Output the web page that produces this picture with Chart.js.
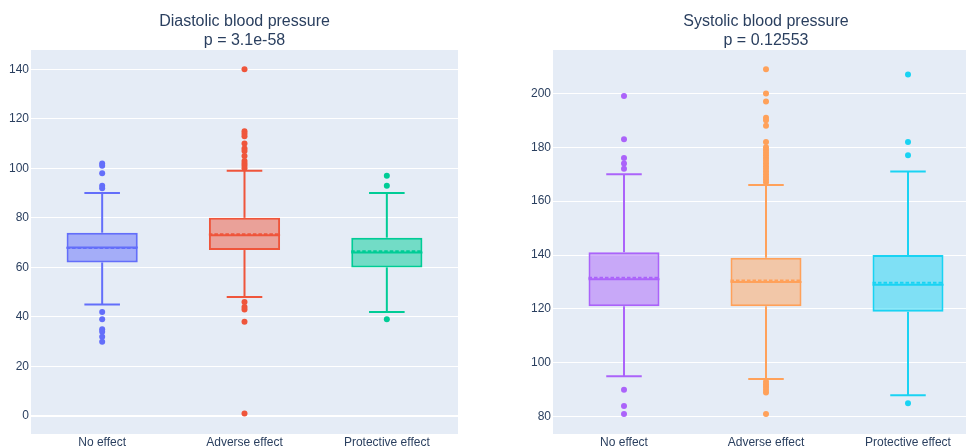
<!DOCTYPE html>
<html>
<head>
<meta charset="utf-8">
<script src="https://cdn.jsdelivr.net/npm/chart.js@4.4.1/dist/chart.umd.min.js"></script>
<style>
  html, body { margin: 0; padding: 0; background: #fff; overflow: hidden; width: 966px; height: 446px; }
  #wrap { position: relative; width: 966px; height: 446px; overflow: hidden; }
  canvas { position: absolute; top: 0; }
  #dia { left: 0; }
  #sys { left: 480px; }
</style>
</head>
<body>
<div id="wrap">
  <canvas id="dia" width="480" height="446"></canvas>
  <canvas id="sys" width="521" height="446"></canvas>
</div>
<script>
// Groups shown on both panels
const categories = ['No effect', 'Adverse effect', 'Protective effect'];

// Diastolic blood pressure: box statistics per group
const diaQ1 = [62, 67, 60];
const diaMedian = [68, 73, 66];
const diaQ3 = [74, 80, 72];
const diaMean = [67.8, 73.4, 66.5];
const diaLowerFence = [45, 48, 42];
const diaUpperFence = [90, 99, 90];
const diaOutliersNoEffect = [102, 101, 98, 93, 92, 42, 39, 35, 34, 32, 30];
const diaOutliersAdverse = [140, 115, 114, 113, 110, 108, 107, 105, 103, 102, 101, 100, 46, 44, 43, 38, 1];
const diaOutliersProtective = [97, 93, 39];
const diaTitle = ['Diastolic blood pressure', 'p = 3.1e-58'];

// Systolic blood pressure: box statistics per group
const sysQ1 = [121, 121, 119];
const sysMedian = [131, 130, 129];
const sysQ3 = [141, 139, 140];
const sysMean = [131.6, 130.6, 129.7];
const sysLowerFence = [95, 94, 88];
const sysUpperFence = [170, 166, 171];
const sysOutliersNoEffect = [199, 183, 176, 174, 172, 90, 84, 81];
const sysOutliersAdverse = [209, 200, 197, 191, 190, 188, 182, 180, 179, 178, 177, 176, 175, 174, 173, 172, 171, 170, 169, 168, 167, 93, 92, 91, 90, 89, 81];
const sysOutliersProtective = [207, 182, 177, 85];
const sysTitle = ['Systolic blood pressure', 'p = 0.12553'];

const FONT = '"Liberation Sans", Arial, sans-serif';
const TEXT = '#2a3f5f';

function rgba(hex, a) {
  const n = parseInt(hex.slice(1), 16);
  return `rgba(${(n >> 16) & 255},${(n >> 8) & 255},${n & 255},${a})`;
}

// Fills the plotting area before grid lines are drawn
const plotBackground = {
  id: 'plotBackground',
  beforeDraw(chart) {
    const { ctx, chartArea: a } = chart;
    ctx.save();
    ctx.fillStyle = '#E5ECF6';
    ctx.fillRect(a.left, a.top, a.right - a.left, a.bottom - a.top);
    ctx.restore();
  }
};

// Draws whiskers, caps, median and mean lines on top of the floating bars
const boxWhiskers = {
  id: 'boxWhiskers',
  afterDatasetsDraw(chart, args, o) {
    const { ctx, chartArea: a } = chart;
    const y = chart.scales.y;
    const bars = chart.getDatasetMeta(0).data;
    ctx.save();
    ctx.beginPath();
    ctx.rect(a.left, a.top, a.right - a.left, a.bottom - a.top);
    ctx.clip();
    ctx.lineWidth = 2;
    const seg = (x0, y0, x1, y1) => { ctx.beginPath(); ctx.moveTo(x0, y0); ctx.lineTo(x1, y1); ctx.stroke(); };
    o.median.forEach((m, i) => {
      const bar = bars[i];
      const cx = bar.x, half = bar.width / 2, cap = half * 0.5;
      ctx.strokeStyle = o.colors[i];
      ctx.setLineDash([]);
      const pq1 = y.getPixelForValue(o.q1[i]);
      const pq3 = y.getPixelForValue(o.q3[i]);
      const plo = y.getPixelForValue(o.lower[i]);
      const phi = y.getPixelForValue(o.upper[i]);
      seg(cx, pq3, cx, phi);
      seg(cx, pq1, cx, plo);
      seg(cx - cap, phi, cx + cap, phi);
      seg(cx - cap, plo, cx + cap, plo);
      const pm = y.getPixelForValue(m);
      seg(cx - half, pm, cx + half, pm);
      ctx.setLineDash([3.5, 2]);
      const pmean = y.getPixelForValue(o.mean[i]);
      seg(cx - half, pmean, cx + half, pmean);
    });
    ctx.restore();
  }
};

function makePanel(id, p) {
  const datasets = [{
    type: 'bar',
    data: categories.map((_, i) => [p.q1[i], p.q3[i]]),
    backgroundColor: p.colors.map(c => rgba(c, 0.5)),
    borderColor: p.colors,
    borderWidth: 2,
    borderSkipped: false,
    barPercentage: 0.5,
    categoryPercentage: 1,
    order: 2
  }];
  p.outliers.forEach((vals, i) => {
    datasets.push({
      type: 'scatter',
      data: vals.map(v => ({ x: categories[i], y: v })),
      pointRadius: 3,
      pointBorderWidth: 0,
      pointBackgroundColor: p.colors[i],
      showLine: false,
      order: 1
    });
  });
  return new Chart(document.getElementById(id), {
    type: 'bar',
    data: { labels: categories, datasets },
    plugins: [plotBackground, boxWhiskers],
    options: {
      responsive: false,
      animation: false,
      events: [],
      devicePixelRatio: 1,
      layout: { padding: { left: 0, right: p.padRight, top: 0, bottom: 0 } },
      plugins: {
        legend: { display: false },
        tooltip: { enabled: false },
        title: {
          display: true,
          text: p.title,
          fullSize: false,
          color: TEXT,
          font: { family: FONT, size: 16, weight: 'normal', lineHeight: 1.2 },
          padding: { top: 11.6, bottom: 0 }
        },
        boxWhiskers: {
          q1: p.q1, q3: p.q3, median: p.median, mean: p.mean,
          lower: p.lower, upper: p.upper, colors: p.colors
        }
      },
      scales: {
        x: {
          type: 'category',
          offset: true,
          grid: { display: false, drawTicks: false },
          border: { display: false },
          ticks: { color: TEXT, font: { family: FONT, size: 12 }, padding: 1, maxRotation: 0, autoSkip: false },
          afterFit(s) { s.height = 12; }
        },
        y: {
          type: 'linear',
          min: p.yMin,
          max: p.yMax,
          grid: {
            color: '#ffffff',
            lineWidth: c => (c.tick && c.tick.value === 0 ? 2 : 1),
            drawTicks: false
          },
          border: { display: false },
          ticks: { stepSize: 20, includeBounds: false, color: TEXT, font: { family: FONT, size: 12 }, padding: 2 },
          afterFit(s) { s.width = p.axisWidth; }
        }
      }
    }
  });
}

makePanel('dia', {
  title: diaTitle,
  q1: diaQ1, q3: diaQ3, median: diaMedian, mean: diaMean,
  lower: diaLowerFence, upper: diaUpperFence,
  outliers: [diaOutliersNoEffect, diaOutliersAdverse, diaOutliersProtective],
  colors: ['#636efa', '#EF553B', '#00cc96'],
  yMin: -7.3, yMax: 147.8,
  axisWidth: 31, padRight: 22
});

makePanel('sys', {
  title: sysTitle,
  q1: sysQ1, q3: sysQ3, median: sysMedian, mean: sysMean,
  lower: sysLowerFence, upper: sysUpperFence,
  outliers: [sysOutliersNoEffect, sysOutliersAdverse, sysOutliersProtective],
  colors: ['#ab63fa', '#FFA15A', '#19d3f3'],
  yMin: 73.6, yMax: 216.1,
  axisWidth: 73, padRight: 22
});
</script>
</body>
</html>
